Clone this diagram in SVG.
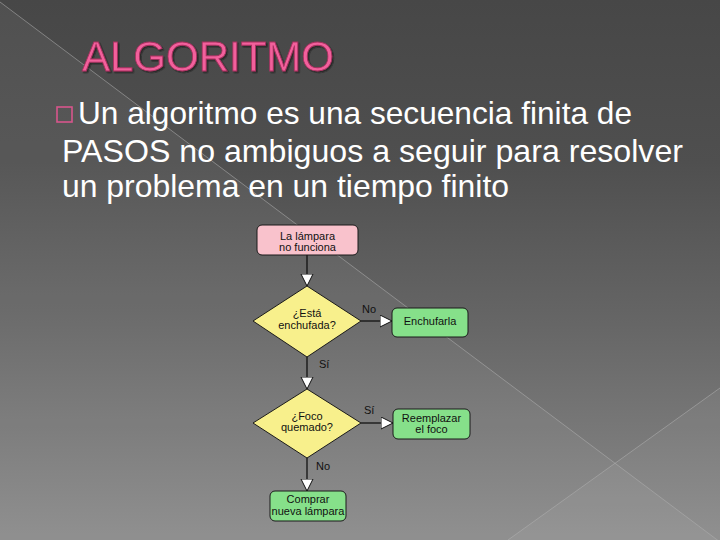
<svg xmlns="http://www.w3.org/2000/svg" width="720" height="540" viewBox="0 0 720 540">
  <defs>
    <linearGradient id="bg" x1="0" y1="0" x2="0" y2="1">
      <stop offset="0" stop-color="#474747"/>
      <stop offset="0.3" stop-color="#4f4f4f"/>
      <stop offset="0.6" stop-color="#666666"/>
      <stop offset="1" stop-color="#8a8a8a"/>
    </linearGradient>
    <filter id="tshadow" x="-5%" y="-20%" width="115%" height="150%">
      <feDropShadow dx="1.5" dy="1.5" stdDeviation="0.6" flood-color="#151515" flood-opacity="0.6"/>
    </filter>
    <marker id="arr" markerUnits="userSpaceOnUse" markerWidth="14" markerHeight="14" refX="12.5" refY="6.5" orient="auto">
      <path d="M0.5,0.5 L12.5,6.5 L0.5,12.5 Z" fill="#ffffff" stroke="#111111" stroke-width="1"/>
    </marker>
  </defs>
  <style>
    .title { font-family: "Liberation Sans", Arial, sans-serif; font-size: 42px; fill: #f2609c; stroke: #a8305f; stroke-width: 0.8px; filter: url(#tshadow); }
    .body { font-family: "Liberation Sans", Arial, sans-serif; font-size: 32px; fill: #ffffff; }
    .node text, .lbl { font-family: "Liberation Sans", Arial, sans-serif; font-size: 11px; fill: #111111; }
    .node text { text-anchor: middle; }
    .box { stroke: #1a1a1a; stroke-width: 1; }
    .start { fill: #f9c2cc; }
    .dec { fill: #f8f08c; }
    .act { fill: #86e08a; }
    .conn line { stroke: #111111; stroke-width: 1.3; marker-end: url(#arr); }
  </style>

  <!-- background -->
  <rect x="0" y="0" width="720" height="540" fill="url(#bg)"/>
  <polygon points="0,2 720,542 0,540" fill="#ffffff" opacity="0.05"/>
  <polygon points="720,388 508,540 720,540" fill="#ffffff" opacity="0.05"/>
  <line x1="0" y1="2" x2="720" y2="542" stroke="#b0b0b0" stroke-width="1" opacity="0.55"/>
  <line x1="720" y1="388" x2="508" y2="540" stroke="#b0b0b0" stroke-width="1" opacity="0.55"/>

  <!-- title -->
  <text class="title" x="82" y="71">ALGORITMO</text>

  <!-- bullet text -->
  <rect x="57" y="107" width="15" height="15" fill="none" stroke="#d8558c" stroke-width="1.6"/>
  <text class="body" x="78" y="124" textLength="554" lengthAdjust="spacingAndGlyphs">Un algoritmo es una secuencia finita de</text>
  <text class="body" x="62" y="162" textLength="621" lengthAdjust="spacingAndGlyphs">PASOS no ambiguos a seguir para resolver</text>
  <text class="body" x="62" y="197" textLength="447" lengthAdjust="spacingAndGlyphs">un problema en un tiempo finito</text>

  <!-- connectors -->
  <g id="connectors" class="conn">
    <line x1="307" y1="255" x2="307" y2="286"/>
    <line x1="361" y1="321" x2="392" y2="321"/>
    <line x1="307" y1="357" x2="307" y2="389"/>
    <line x1="361" y1="423" x2="393" y2="423"/>
    <line x1="307" y1="458" x2="307" y2="491"/>
    <text class="lbl" x="362" y="313">No</text>
    <text class="lbl" x="319" y="368">Sí</text>
    <text class="lbl" x="364" y="414">Sí</text>
    <text class="lbl" x="316" y="470">No</text>
  </g>

  <g id="n1" class="node">
    <rect class="box start" x="257" y="225" width="101" height="30" rx="5"/>
    <text x="307.5" y="239.5">La lámpara</text>
    <text x="307.5" y="250.5">no funciona</text>
  </g>
  <g id="n2" class="node">
    <polygon class="box dec" points="307,286 361,321 307,357 253,321"/>
    <text x="307" y="316.5">¿Está</text>
    <text x="307" y="328.5">enchufada?</text>
  </g>
  <g id="n3" class="node">
    <rect class="box act" x="392" y="308" width="76" height="29" rx="5"/>
    <text x="430" y="325">Enchufarla</text>
  </g>
  <g id="n4" class="node">
    <polygon class="box dec" points="307,389 361,423 307,458 253,423"/>
    <text x="307" y="419.5">¿Foco</text>
    <text x="307" y="431">quemado?</text>
  </g>
  <g id="n5" class="node">
    <rect class="box act" x="393" y="409" width="77" height="30" rx="5"/>
    <text x="431.5" y="421.5">Reemplazar</text>
    <text x="431.5" y="433">el foco</text>
  </g>
  <g id="n6" class="node">
    <rect class="box act" x="270" y="491" width="76" height="30" rx="5"/>
    <text x="308" y="503">Comprar</text>
    <text x="308" y="514.5">nueva lámpara</text>
  </g>
</svg>
